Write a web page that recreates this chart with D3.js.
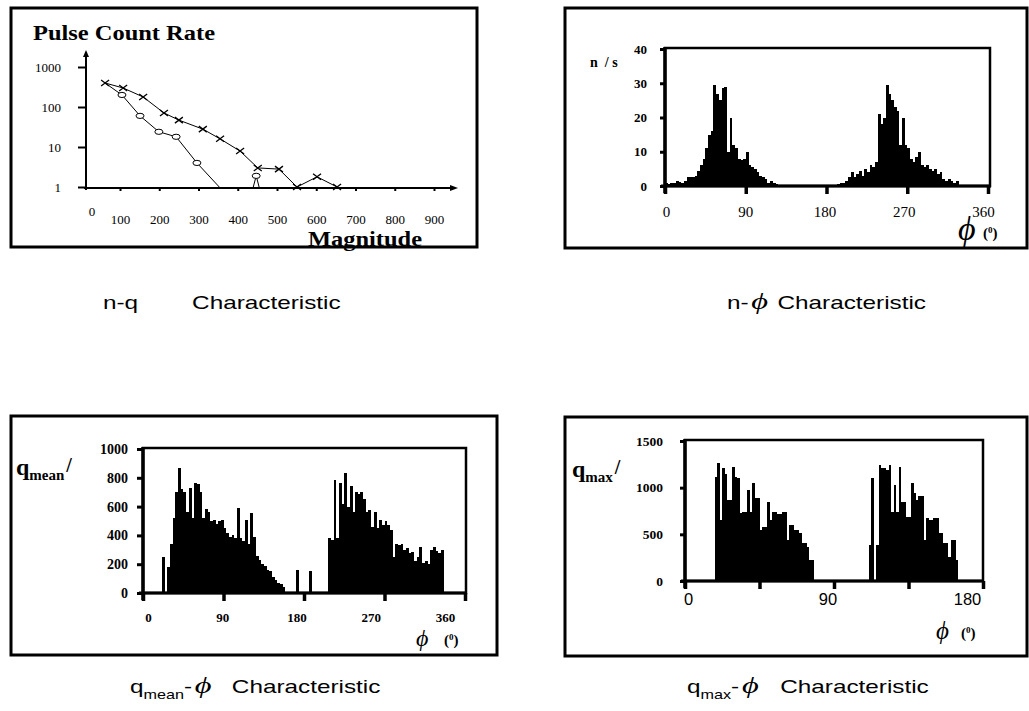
<!DOCTYPE html>
<html>
<head>
<meta charset="utf-8">
<title>Partial discharge characteristics</title>
<style>
  body { margin: 0; background: #fff; }
  .frame { fill: none; stroke: #000; stroke-width: 3px; }
  .serif { font-family: "Liberation Serif", "Times New Roman", serif; }
  .sans { font-family: "Liberation Sans", Arial, sans-serif; }
  .bar { fill: #000; }
  .axis path { display: none; }
  .axis line { stroke: #000; }
</style>
</head>
<body>
<svg id="chart" width="1029" height="711"></svg>
<script src="https://d3js.org/d3.v7.min.js"></script>
<script>
// ---- n-q data (log count vs magnitude)
const crossMag   = [62, 108, 159, 212, 250, 311, 355, 406, 451, 505, 551, 602, 653];
const crossCount = [398, 299, 178, 71, 47, 28, 16, 7.9, 3, 2.8, 1, 1.8, 1];
const circleMag   = [62, 105, 151, 199, 243, 296, 355];
const circleCount = [398, 200, 60, 24, 18, 4, 0.95];
const spikeMag   = [439, 447, 455];
const spikeCount = [0.95, 1.9, 0.95];
const nqYTicks = [1, 10, 100, 1000];
const nqXTicks = [100, 200, 300, 400, 500, 600, 700, 800, 900];

// ---- n-phi histogram, 3 degree bins starting at 0
const nPhiBin = 3;
const nPhiValues = [
  1, 0.5, 0.8, 1, 1.5, 1.2, 1, 1.5, 2.5, 2.5, 2.5, 2.8, 4.5, 6, 8, 11, 15, 16,
  29.5, 27, 25, 28.5, 29, 10, 20, 12, 11, 8, 7.5, 8, 10, 6, 5.5, 5, 4, 3, 2.5, 2, 1, 1.5, 0.8, 0.5,
  0, 0, 0, 0, 0, 0, 0, 0, 0, 0, 0, 0, 0, 0, 0, 0, 0, 0, 0, 0, 0, 0,
  0.5, 0.8, 1, 1.5, 2.5, 4, 2.5, 3.5, 4.5, 3, 5, 4, 6, 5.5, 7,
  21, 18, 20, 29.5, 27, 25, 23, 22, 12, 20, 12, 11, 8, 7, 8.5, 10, 6, 5.5, 6, 5, 4.5, 5,
  3.5, 4, 2, 1.5, 2, 1.5, 1, 1.5,
  0, 0, 0, 0, 0, 0, 0, 0, 0, 0, 0
];
const nPhiYTicks = [0, 10, 20, 30, 40];
const phiTicks360 = [0, 90, 180, 270, 360];

// ---- q_mean-phi histogram, 3 degree bins
const qMeanBin = 3;
const qMeanValues = [
  0, 0, 0, 0, 0, 0, 0, 250, 0,
  180, 340, 520, 700, 868, 720, 700, 560, 730, 520, 764, 760, 700, 520, 580, 560, 500, 510, 480, 500,
  510, 450, 420, 390, 400, 380, 590, 380, 360, 505, 340, 555, 390, 260, 230, 200, 190, 160, 150, 110,
  90, 70, 60, 40,
  0, 0, 0, 0, 160, 0, 0, 0, 0, 150, 0, 0, 0, 0, 0, 0,
  380, 370, 785, 380, 764, 620, 833, 600, 740, 560, 700, 690, 700, 650, 560, 576, 460, 560, 450, 510,
  470, 500, 470, 440, 250, 340, 330, 340, 300, 310, 280, 285, 220, 250, 320, 210, 220, 200, 300, 320,
  290, 280, 300,
  0, 0, 0, 0, 0, 0, 0, 0
];
const qMeanYTicks = [0, 200, 400, 600, 800, 1000];

// ---- q_max-phi histogram, 1.5 degree bins over 0..180
const qMaxBin = 1.5;
const qMaxValues = [
  0, 0, 0, 0, 0, 0, 0, 0, 0, 0, 0, 0,
  1118, 1264, 654, 1210, 1150, 868, 868, 1222, 1118, 1100, 725, 740, 740, 975, 740, 1050, 890, 890,
  547, 580, 580, 847, 654, 740, 740, 720, 720, 740, 740, 440, 600, 600, 550, 550, 510, 407, 407, 360,
  225, 225,
  0, 0, 0, 0, 0, 0, 0, 0, 0, 0, 0, 0, 0, 0, 0, 0, 0, 0, 0, 0, 0, 0,
  386, 1100, 0, 386, 1243, 1210, 1210, 1190, 1243, 740, 1030, 740, 1222, 850, 850, 690, 690, 1050,
  940, 870, 910, 910, 440, 675, 650, 650, 675, 675, 515, 515, 407, 407, 260, 440, 440, 220,
  0, 0, 0, 0, 0, 0, 0, 0, 0, 0
];
const qMaxYTicks = [0, 500, 1000, 1500];
const qMaxXTicks = [0, 45, 90, 135, 180];
const qMaxXLabels = [0, 90, 180];

const svg = d3.select("#chart");

// panel frames
[[11, 8, 466, 239], [565, 8, 462, 240], [11, 416, 486, 239], [565, 417, 462, 239]].forEach(f => {
  svg.append("rect").attr("class", "frame")
    .attr("x", f[0]).attr("y", f[1]).attr("width", f[2]).attr("height", f[3]);
});

// ================= n-q =================
{
  const x = d3.scaleLinear().domain([100, 900]).range([120, 434]);
  const y = d3.scaleLog().domain([1, 1000]).range([187, 67]);
  const g = svg.append("g");

  svg.append("text").attr("class", "serif")
    .attr("x", 33).attr("y", 40)
    .attr("font-size", 20).attr("font-weight", "bold")
    .attr("textLength", 182).attr("lengthAdjust", "spacingAndGlyphs")
    .text("Pulse Count Rate");

  // axes with arrows
  g.append("line").attr("x1", 86).attr("x2", 86).attr("y1", 190).attr("y2", 55)
    .attr("stroke", "#000").attr("stroke-width", 2);
  g.append("path").attr("d", "M86,50 L83,57 L89,57 Z").attr("fill", "#000");
  g.append("line").attr("x1", 84).attr("x2", 452).attr("y1", 188).attr("y2", 188)
    .attr("stroke", "#000").attr("stroke-width", 2);
  g.append("path").attr("d", "M458,188 L450,185 L450,191 Z").attr("fill", "#000");

  g.append("g").attr("class", "axis serif")
    .attr("transform", "translate(86,0)")
    .call(d3.axisLeft(y).tickValues(nqYTicks).tickSize(8).tickPadding(17).tickFormat(d3.format("d")))
    .call(a => a.selectAll("text").attr("font-size", 13).attr("fill", "#000"))
    .call(a => a.selectAll("line").attr("stroke-width", 2));

  g.append("g").attr("class", "axis serif")
    .attr("transform", "translate(0,188)")
    .call(d3.axisBottom(x).tickValues(nqXTicks).tickSize(3).tickPadding(24))
    .call(a => a.selectAll("text").attr("font-size", 13).attr("fill", "#000"))
    .call(a => a.selectAll("line").attr("stroke-width", 2));
  g.append("text").attr("class", "serif").attr("x", 92).attr("y", 216)
    .attr("font-size", 13).attr("text-anchor", "middle").text("0");

  const line = d3.line().x(d => x(d[0])).y(d => y(d[1]));
  const crossPts = crossMag.map((m, i) => [m, crossCount[i]]);
  const circlePts = circleMag.map((m, i) => [m, circleCount[i]]);
  const spikePts = spikeMag.map((m, i) => [m, spikeCount[i]]);
  [crossPts, circlePts, spikePts].forEach(pts => {
    g.append("path").attr("d", line(pts)).attr("fill", "none")
      .attr("stroke", "#000").attr("stroke-width", 1);
  });
  g.selectAll(".circ").data(circlePts.slice(1, 6).concat([spikePts[1]])).enter().append("ellipse")
    .attr("class", "circ")
    .attr("cx", d => x(d[0])).attr("cy", d => y(d[1]))
    .attr("rx", 4).attr("ry", 2.6)
    .attr("fill", "#fff").attr("stroke", "#000").attr("stroke-width", 1);
  g.selectAll(".cross").data(crossPts).enter().append("path")
    .attr("class", "cross")
    .attr("transform", d => `translate(${x(d[0])},${y(d[1])})`)
    .attr("d", "M-4,-3 L4,3 M-4,3 L4,-3")
    .attr("stroke", "#000").attr("stroke-width", 1.3);

  svg.append("text").attr("class", "serif")
    .attr("x", 308).attr("y", 246)
    .attr("font-size", 21).attr("font-weight", "bold")
    .attr("textLength", 114).attr("lengthAdjust", "spacingAndGlyphs")
    .text("Magnitude");
}

// histogram panel helper
function histPanel(opt) {
  const x = d3.scaleLinear().domain(opt.xDomain).range(opt.xRange);
  const y = d3.scaleLinear().domain(opt.yDomain).range(opt.yRange);
  const g = svg.append("g");
  const y0 = y(0);

  g.selectAll(".bar").data(opt.values).enter().append("rect")
    .attr("class", "bar")
    .attr("x", (d, i) => x(i * opt.bin))
    .attr("width", (d, i) => Math.max(0, x((i + 1) * opt.bin) - x(i * opt.bin) + 0.2))
    .attr("y", d => y(d))
    .attr("height", d => y0 - y(d))
    .attr("shape-rendering", "crispEdges");

  // plot box
  g.append("rect")
    .attr("x", opt.xRange[0]).attr("y", opt.yRange[1] - 1)
    .attr("width", opt.boxRight - opt.xRange[0]).attr("height", y0 - opt.yRange[1] + 1)
    .attr("fill", "none").attr("stroke", "#000").attr("stroke-width", 2.5);
  g.append("line").attr("x1", opt.xRange[0]).attr("x2", opt.xRange[0])
    .attr("y1", opt.yRange[1] - 2).attr("y2", y0 + 7)
    .attr("stroke", "#000").attr("stroke-width", 3.5);
  g.append("line").attr("x1", opt.xRange[0] - 4).attr("x2", opt.boxRight + 1)
    .attr("y1", y0).attr("y2", y0)
    .attr("stroke", "#000").attr("stroke-width", 3);

  // y axis
  g.append("g").attr("class", "axis serif")
    .attr("transform", `translate(${opt.xRange[0]},0)`)
    .call(d3.axisLeft(y).tickValues(opt.yTicks).tickSize(opt.yTickSize).tickPadding(opt.yPad)
      .tickFormat(d3.format("d")))
    .call(a => a.selectAll("text").attr("font-size", opt.yFont).attr("font-weight", "bold").attr("fill", "#000"))
    .call(a => a.selectAll("line").attr("stroke-width", 3));

  // x tick marks
  g.append("g").attr("class", "axis")
    .attr("transform", `translate(0,${y0})`)
    .call(d3.axisBottom(x).tickValues(opt.xTicks).tickSize(8).tickFormat(""))
    .call(a => a.selectAll("line").attr("stroke-width", 3.5));

  // x labels (own placement scale)
  const xl = d3.scaleLinear().domain(opt.xDomain).range(opt.labelRange);
  g.append("g").attr("class", "axis " + opt.xClass)
    .attr("transform", `translate(0,${y0})`)
    .call(d3.axisBottom(xl).tickValues(opt.xLabels).tickSize(0).tickPadding(opt.xPad)
      .tickFormat(d3.format("d")))
    .call(a => a.selectAll("text").attr("font-size", opt.xFont)
      .attr("font-weight", opt.xBold ? "bold" : "normal").attr("fill", "#000"))
    .call(a => a.selectAll("line").remove());
  return g;
}

// "phi (deg)" axis title
function phiLabel(x, y, size, px, py) {
  svg.append("text").attr("class", "serif")
    .attr("x", x).attr("y", y)
    .attr("font-size", size).attr("font-style", "italic").attr("fill", "#000")
    .text("\u03D5");
  const p = svg.append("text").attr("class", "serif")
    .attr("x", px).attr("y", py)
    .attr("font-size", 15).attr("font-weight", "bold").attr("fill", "#000");
  p.append("tspan").text("(");
  p.append("tspan").attr("font-size", 9).attr("dy", -5).text("0");
  p.append("tspan").attr("dy", 5).text(")");
}

// ================= n-phi =================
histPanel({
  values: nPhiValues, bin: nPhiBin,
  xDomain: [0, 360], xRange: [665, 988], boxRight: 990,
  yDomain: [0, 40], yRange: [186, 49],
  yTicks: nPhiYTicks, yTickSize: 5, yPad: 13, yFont: 13,
  xTicks: phiTicks360, xLabels: phiTicks360, labelRange: [666, 983],
  xPad: 20, xFont: 15, xBold: false, xClass: "serif"
});
svg.append("text").attr("class", "serif").attr("x", 590).attr("y", 67)
  .attr("font-size", 14).attr("font-weight", "bold").attr("xml:space", "preserve").text("n  / s");
phiLabel(958, 240, 34, 983, 238);

// ================= q_mean-phi =================
histPanel({
  values: qMeanValues, bin: qMeanBin,
  xDomain: [0, 360], xRange: [143, 465], boxRight: 466,
  yDomain: [0, 1000], yRange: [593, 449],
  yTicks: qMeanYTicks, yTickSize: 6, yPad: 9, yFont: 14,
  xTicks: phiTicks360, xLabels: phiTicks360, labelRange: [148, 445],
  xPad: 20, xFont: 13, xBold: true, xClass: "serif"
});
{
  const t = svg.append("text").attr("class", "serif").attr("x", 16).attr("y", 475)
    .attr("font-weight", "bold");
  t.append("tspan").attr("font-size", 24).text("q");
  t.append("tspan").attr("font-size", 15).attr("dy", 5).text("mean");
  t.append("tspan").attr("font-size", 20).attr("dy", -8).attr("dx", 2).text("/");
}
phiLabel(416, 646, 24, 444, 645);

// ================= q_max-phi =================
histPanel({
  values: qMaxValues, bin: qMaxBin,
  xDomain: [0, 180], xRange: [685, 983], boxRight: 983,
  yDomain: [0, 1500], yRange: [581, 441],
  yTicks: qMaxYTicks, yTickSize: 5, yPad: 17, yFont: 13.5,
  xTicks: qMaxXTicks, xLabels: qMaxXLabels, labelRange: [688, 967],
  xPad: 12, xFont: 16.5, xBold: false, xClass: "sans"
});
{
  const t = svg.append("text").attr("class", "serif").attr("x", 572).attr("y", 477)
    .attr("font-weight", "bold");
  t.append("tspan").attr("font-size", 24).text("q");
  t.append("tspan").attr("font-size", 15).attr("dy", 5).text("max");
  t.append("tspan").attr("font-size", 20).attr("dy", -8).attr("dx", 2).text("/");
}
phiLabel(936, 639, 25, 961, 638);

// ================= captions =================
function caption(x, y, parts) {
  const g = svg.append("g").attr("transform", `translate(${x},${y}) scale(1.35,1)`);
  const t = g.append("text").attr("class", "sans").attr("font-size", 18).attr("fill", "#000");
  parts.forEach(p => {
    const s = t.append("tspan").text(p.t);
    if (p.dx) s.attr("dx", p.dx);
    if (p.dy) s.attr("dy", p.dy);
    if (p.size) s.attr("font-size", p.size);
    if (p.phi) s.attr("font-family", "Liberation Serif, serif").attr("font-style", "italic");
  });
}
caption(103, 309, [{ t: "n-q" }, { t: "Characteristic", dx: 40 }]);
caption(727, 309, [{ t: "n-" }, { t: "\u03D5", phi: true, size: 24, dx: 2 }, { t: "Characteristic", dx: 7 }]);
caption(130, 693, [{ t: "q" }, { t: "mean", size: 12, dy: 6 }, { t: "-", dy: -6 }, { t: "\u03D5", phi: true, size: 24, dx: 2 }, { t: "Characteristic", dx: 15 }]);
caption(687, 693, [{ t: "q" }, { t: "max", size: 12, dy: 6 }, { t: "-", dy: -6 }, { t: "\u03D5", phi: true, size: 24, dx: 2 }, { t: "Characteristic", dx: 16 }]);
</script>
</body>
</html>
